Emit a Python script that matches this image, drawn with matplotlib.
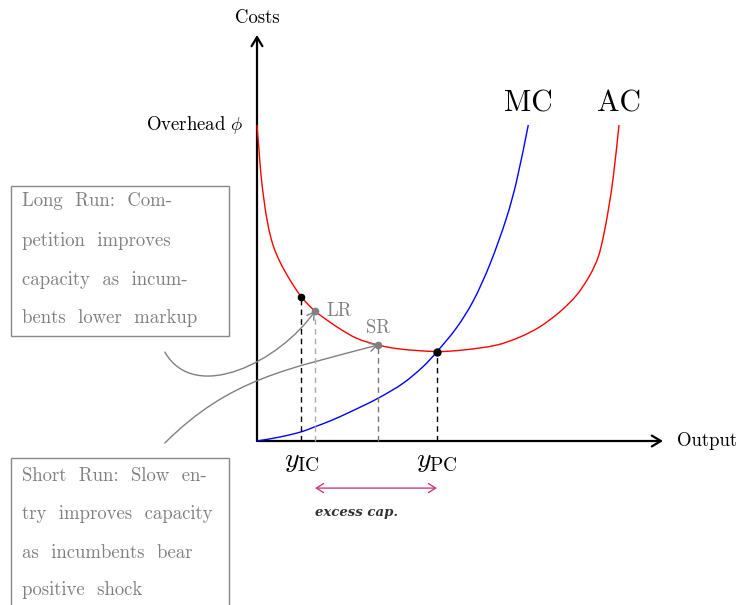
import numpy as np
import matplotlib
matplotlib.use("Agg")
import matplotlib.pyplot as plt
from matplotlib.path import Path
from matplotlib.patches import FancyArrowPatch, Rectangle, PathPatch

plt.rcParams['mathtext.fontset'] = 'cm'
plt.rcParams['font.family'] = ['cmr10', 'DejaVu Serif']

# curves (output, cost)
ac_x = [0.0, 0.049, 0.099, 0.172, 0.271, 0.394, 0.567, 0.813, 1.096, 1.429, 1.963, 2.456, 2.980,
        3.522, 4.433, 5.074, 5.911, 6.478, 6.970, 7.463, 7.874, 8.202, 8.406, 8.530, 8.653, 8.776, 8.916]
ac_y = [7.783, 7.167, 6.552, 5.936, 5.320, 4.828, 4.409, 3.966, 3.547, 3.202, 2.815, 2.530, 2.365,
        2.266, 2.204, 2.241, 2.365, 2.562, 2.815, 3.185, 3.596, 4.089, 4.539, 5.032, 5.690, 6.510, 7.783]
mc_x = [0.0, 0.567, 1.101, 1.429, 1.798, 2.291, 2.980, 3.596, 4.089, 4.433,
        4.916, 5.325, 5.736, 6.147, 6.394, 6.682]
mc_y = [0.0, 0.099, 0.229, 0.352, 0.493, 0.714, 1.052, 1.421, 1.830, 2.200,
        2.790, 3.448, 4.352, 5.500, 6.404, 7.783]

overhead = 7.783
y_ic = (1.096, 3.547)
y_pc = (4.433, 2.204)
lr_pt = (1.429, 3.202)
sr_pt = (2.980, 2.365)

box_lr = ["Long  Run:  Com-", "petition  improves", "capacity  as  incum-", "bents  lower  markup"]
box_sr = ["Short  Run:  Slow  en-", "try  improves  capacity", "as  incumbents  bear", "positive  shock"]

S = 40.6  # pixels per unit
fig = plt.figure(figsize=(7.4, 6.05), dpi=100)
ax = fig.add_axes([0, 0, 1, 1])
ax.set_xlim(-257 / S, (740 - 257) / S)
ax.set_ylim(-(605 - 441) / S, 441 / S)
ax.axis('off')


def smooth_path(xs, ys):
    # smooth curve through the points (chord length hermite -> bezier)
    p = np.column_stack([xs, ys])
    n = len(p)
    t = np.concatenate([[0], np.cumsum(np.hypot(*np.diff(p, axis=0).T))])
    m = np.zeros_like(p)
    for i in range(n):
        a, b = max(i - 1, 0), min(i + 1, n - 1)
        m[i] = (p[b] - p[a]) / (t[b] - t[a])
    verts = [p[0]]
    codes = [Path.MOVETO]
    for i in range(n - 1):
        h = t[i + 1] - t[i]
        verts += [p[i] + m[i] * h / 3, p[i + 1] - m[i + 1] * h / 3, p[i + 1]]
        codes += [Path.CURVE4] * 3
    return Path(verts, codes)


def bend(p0, p3, out_deg, in_deg):
    p0 = np.array(p0)
    p3 = np.array(p3)
    d = 0.3915 * np.hypot(*(p3 - p0))
    a, b = np.radians(out_deg), np.radians(in_deg)
    p1 = p0 + d * np.array([np.cos(a), np.sin(a)])
    p2 = p3 + d * np.array([np.cos(b), np.sin(b)])
    return Path([p0, p1, p2, p3], [Path.MOVETO] + [Path.CURVE4] * 3)


# axes
ax.add_patch(FancyArrowPatch((0, 0), (0, 10), arrowstyle='->,head_length=5,head_width=3',
                             lw=1.6, color='black', shrinkA=0, shrinkB=0, mutation_scale=1.3))
ax.add_patch(FancyArrowPatch((0, 0), (10, 0), arrowstyle='->,head_length=5,head_width=3',
                             lw=1.6, color='black', shrinkA=0, shrinkB=0, mutation_scale=1.3))
ax.text(0, 10.42, "Costs", ha='center', va='center', fontsize=13.5)
ax.text(10.34, 0, "Output", ha='left', va='center', fontsize=13.5)
ax.text(-0.32, overhead, r"Overhead $\phi$", ha='right', va='center', fontsize=13.5)

# cost curves
ax.add_patch(PathPatch(smooth_path(ac_x, ac_y), fill=False, ec='red', lw=1.0))
ax.add_patch(PathPatch(smooth_path(mc_x, mc_y), fill=False, ec='blue', lw=1.0))
ax.text(mc_x[-1], 8.30, "MC", ha='center', va='center', fontsize=21.5)
ax.text(ac_x[-1], 8.30, "AC", ha='center', va='center', fontsize=21.5)

# dashed drop lines
ax.plot([y_ic[0], y_ic[0]], [0, y_ic[1]], color='black', lw=1.0, ls=(0, (4, 3)))
ax.plot([lr_pt[0], lr_pt[0]], [0, lr_pt[1]], color='#aaaaaa', lw=1.0, ls=(0, (4, 3)))
ax.plot([sr_pt[0], sr_pt[0]], [0, sr_pt[1]], color='#777777', lw=1.0, ls=(0, (4, 3)))
ax.plot([y_pc[0], y_pc[0]], [0, y_pc[1]], color='black', lw=1.0, ls=(0, (4, 3)))

ax.plot(*y_ic, 'o', color='black', ms=4.5, zorder=5)
ax.plot(*y_pc, 'o', color='black', ms=5, zorder=5)
ax.plot(*lr_pt, 'o', color='#808080', ms=4.5, zorder=5)
ax.plot(*sr_pt, 'o', color='#808080', ms=4.5, zorder=5)
ax.text(lr_pt[0] + 0.29, lr_pt[1], "LR", color='#808080', ha='left', va='center', fontsize=13.5)
ax.text(sr_pt[0], sr_pt[1] + 0.42, "SR", color='#808080', ha='center', va='center', fontsize=13.5)

ax.text(y_ic[0], -0.49, r"$y_{\mathrm{IC}}$", ha='center', va='center', fontsize=20)
ax.text(y_pc[0], -0.49, r"$y_{\mathrm{PC}}$", ha='center', va='center', fontsize=20)

# excess capacity
ax.add_patch(FancyArrowPatch((lr_pt[0], -1.16), (y_pc[0], -1.16), arrowstyle='<->,head_length=4,head_width=2.5',
                             lw=1.0, color='#c8407a', shrinkA=0, shrinkB=0, mutation_scale=1.3))
ax.text(2.46, -1.77, "excess cap.", ha='center', va='center', family='DejaVu Serif',
        style='italic', weight='bold', fontsize=9.5, color='#333333')

# boxes
ax.add_patch(Rectangle((-6.06, 2.59), 5.37, 3.69, fill=False, ec='#888888', lw=1.0))
ax.add_patch(Rectangle((-6.06, -4.5), 5.37, 4.08, fill=False, ec='#888888', lw=1.0))
for line, yy in zip(box_lr, [5.91, 4.93, 3.97, 3.03]):
    ax.text(-5.79, yy, line, color='#808080', ha='left', va='center', fontsize=13.5)
for line, yy in zip(box_sr, [-0.86, -1.80, -2.76, -3.67]):
    ax.text(-5.79, yy, line, color='#808080', ha='left', va='center', fontsize=13.5)

# curved pointers
ax.add_patch(FancyArrowPatch(path=bend((-2.27, 2.19), lr_pt, -60, 235),
                             arrowstyle='->,head_length=5,head_width=3', lw=1.0, color='#808080',
                             shrinkA=0, shrinkB=3))
ax.add_patch(FancyArrowPatch(path=bend((-2.27, -0.05), sr_pt, 45, 195),
                             arrowstyle='->,head_length=5,head_width=3', lw=1.0, color='#808080',
                             shrinkA=0, shrinkB=3))

fig.savefig("out.png", dpi=100)
